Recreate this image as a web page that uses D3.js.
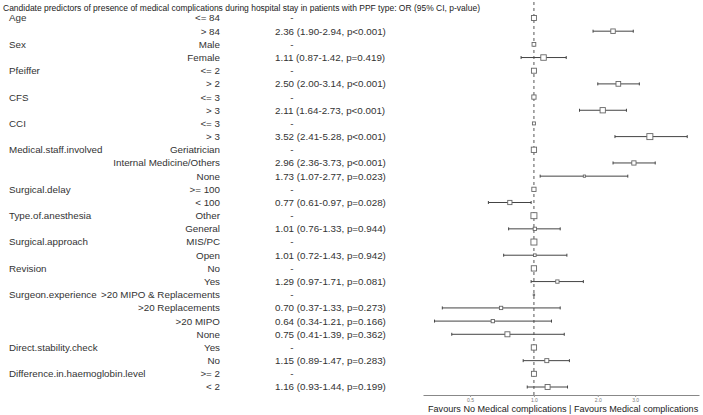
<!DOCTYPE html>
<html><head><meta charset="utf-8">
<script src="https://cdn.jsdelivr.net/npm/d3@7"></script>
<style>body{margin:0;background:#fff}svg{display:block}text{font-family:"Liberation Sans",Arial,sans-serif}</style>
</head><body><svg id="c" width="703" height="415"></svg>
<script>
const variables = ["Age","","Sex","","Pfeiffer","","CFS","","CCI","","Medical.staff.involved","","","Surgical.delay","","Type.of.anesthesia","","Surgical.approach","","Revision","","Surgeon.experience","","","","Direct.stability.check","","Difference.in.haemoglobin.level",""];
const levels = ["<= 84","> 84","Male","Female","<= 2","> 2","<= 3","> 3","<= 3","> 3","Geriatrician","Internal Medicine/Others","None",">= 100","< 100","Other","General","MIS/PC","Open","No","Yes",">20 MIPO & Replacements",">20 Replacements",">20 MIPO","None","Yes","No",">= 2","< 2"];
const oddsRatio = [1,2.36,1,1.11,1,2.50,1,2.11,1,3.52,1,2.96,1.73,1,0.77,1,1.01,1,1.01,1,1.29,1,0.70,0.64,0.75,1,1.15,1,1.16];
const lower = [null,1.90,null,0.87,null,2.00,null,1.64,null,2.41,null,2.36,1.07,null,0.61,null,0.76,null,0.72,null,0.97,null,0.37,0.34,0.41,null,0.89,null,0.93];
const upper = [null,2.94,null,1.42,null,3.14,null,2.73,null,5.28,null,3.73,2.77,null,0.97,null,1.33,null,1.43,null,1.71,null,1.33,1.21,1.39,null,1.47,null,1.44];
const pValues = [null,"<0.001",null,"=0.419",null,"<0.001",null,"<0.001",null,"<0.001",null,"<0.001","=0.023",null,"=0.028",null,"=0.944",null,"=0.942",null,"=0.081",null,"=0.273","=0.166","=0.362",null,"=0.283",null,"=0.199"];
const weights = [25,20,14,30,25,22,18,28,9,36,28,18,5,18,18,36,11,36,7,28,11,2,11,11,25,28,16,25,25];
const tickValues = [0.5,1,2,3];
const title = "Candidate predictors of presence of medical complications during hospital stay in patients with PPF type: OR (95% CI, p-value)";
const axisTitle = "Favours No Medical complications | Favours Medical complications";

const svg = d3.select("#c");
const rows = d3.range(levels.length);
const y = d3.scalePoint().domain(rows).range([18, 387]);
const x = d3.scaleLog().domain([0.3, 6]).range([423, 699]);
const sz = d3.scaleSqrt().domain([0, 36]).range([0, 6]);
const f2 = d3.format(".2f");

svg.append("text").attr("x", 3).attr("y", 11).attr("font-size", 9.6).attr("fill", "#222")
  .attr("textLength", 477).attr("lengthAdjust", "spacingAndGlyphs").text(title);

const tg = svg.append("g").attr("font-size", 9.8).attr("fill", "#333");
tg.selectAll(".v").data(rows).join("text").attr("x", 9).attr("y", i => y(i)).attr("dy", "0.35em").text(i => variables[i]);
tg.selectAll(".l").data(rows).join("text").attr("x", 220).attr("y", i => y(i)).attr("dy", "0.35em").attr("text-anchor", "end").text(i => levels[i]);
tg.selectAll(".e").data(rows).join("text")
  .attr("x", i => lower[i] == null ? 292 : 275).attr("y", i => y(i)).attr("dy", "0.35em")
  .attr("text-anchor", i => lower[i] == null ? "middle" : "start")
  .text(i => lower[i] == null ? "-" : `${f2(oddsRatio[i])} (${f2(lower[i])}-${f2(upper[i])}, p${pValues[i]})`);

// reference line
svg.append("line").attr("x1", x(1)).attr("x2", x(1)).attr("y1", 2).attr("y2", 395)
  .attr("stroke", "#555").attr("stroke-width", 1).attr("stroke-dasharray", "3,3");

// axis
const ax = svg.append("g").attr("transform", "translate(0,395)")
  .call(d3.axisBottom(x).tickValues(tickValues).tickFormat(d3.format(".1f")).tickSize(2).tickSizeOuter(0));
ax.select(".domain").attr("stroke", "#888");
ax.selectAll(".tick line").attr("stroke", "#999");
ax.selectAll(".tick text").attr("font-size", 5).attr("fill", "#777").attr("dy", "0.4em").attr("font-family", "Liberation Sans, Arial, sans-serif");

// error bars
const ci = rows.filter(i => lower[i] != null);
const eg = svg.append("g").attr("stroke", "#444").attr("stroke-width", 1);
eg.selectAll(".h").data(ci).join("line").attr("x1", i => x(lower[i])).attr("x2", i => x(upper[i])).attr("y1", i => y(i)).attr("y2", i => y(i));
eg.selectAll(".cl").data(ci).join("line").attr("x1", i => x(lower[i])).attr("x2", i => x(lower[i])).attr("y1", i => y(i) - 1.5).attr("y2", i => y(i) + 1.5);
eg.selectAll(".cu").data(ci).join("line").attr("x1", i => x(upper[i])).attr("x2", i => x(upper[i])).attr("y1", i => y(i) - 1.5).attr("y2", i => y(i) + 1.5);

// markers
svg.append("g").selectAll("rect").data(rows).join("rect")
  .attr("x", i => x(oddsRatio[i]) - sz(weights[i]) / 2)
  .attr("y", i => y(i) - sz(weights[i]) / 2)
  .attr("width", i => sz(weights[i])).attr("height", i => sz(weights[i]))
  .attr("fill", "#fff").attr("stroke", "#666").attr("stroke-width", 0.9);

svg.append("text").attr("x", 428).attr("y", 411.5).attr("font-size", 9.1).attr("fill", "#222").text(axisTitle);
</script></body></html>
